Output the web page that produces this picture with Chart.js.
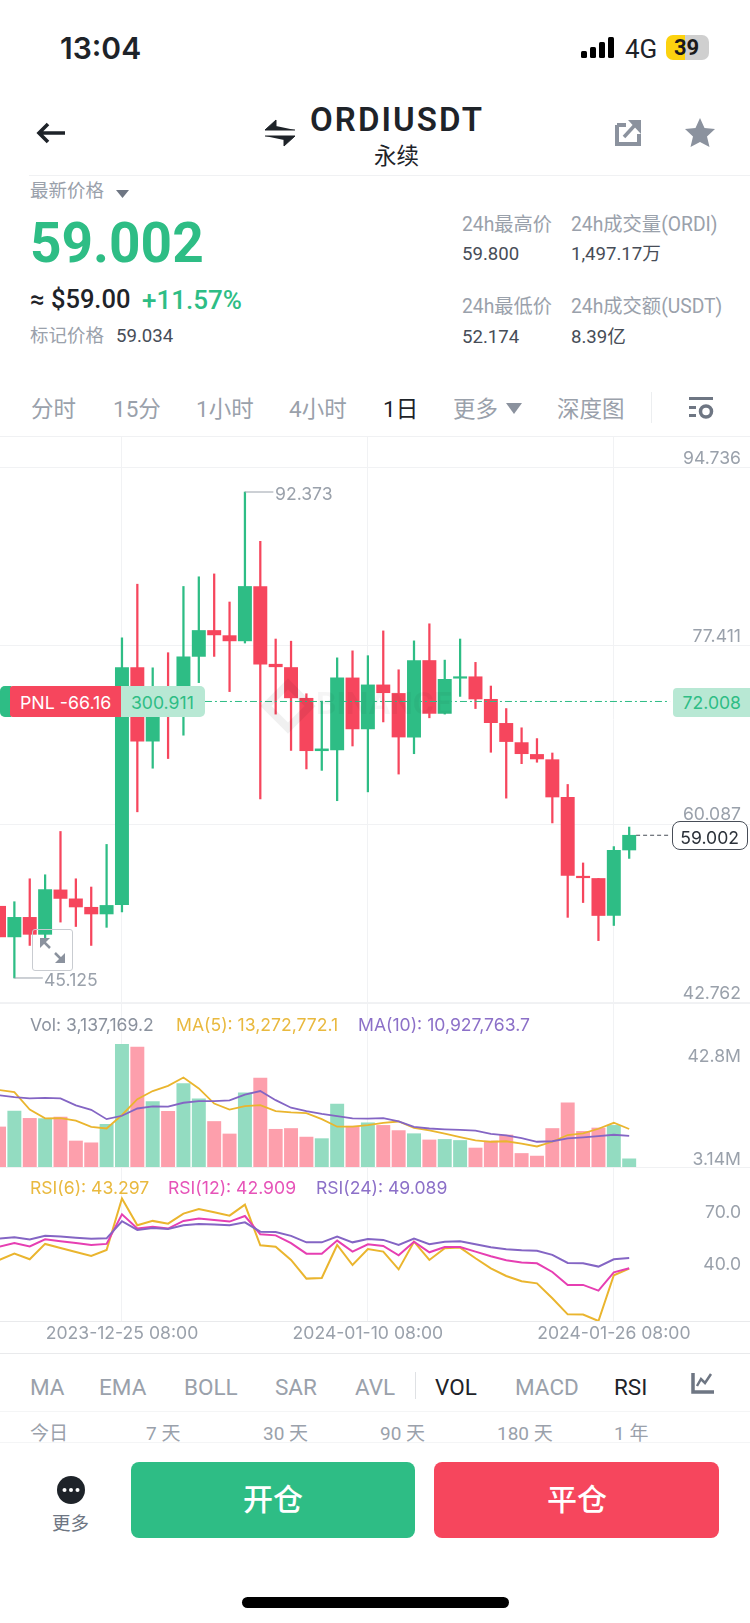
<!DOCTYPE html>
<html>
<head>
<meta charset="utf-8">
<title>ORDIUSDT</title>
<script src="https://cdn.jsdelivr.net/npm/chart.js@4"></script>
<style>
  html, body { margin: 0; padding: 0; background: #fff; }
  #page { position: relative; width: 750px; height: 1623px; overflow: hidden; background: #fff; font-family: Roboto, "Noto Sans CJK SC", sans-serif; }
  canvas { position: absolute; left: 0; }
  .t { position: absolute; white-space: nowrap; transform: translateY(-50%); line-height: 1; }
  .g { color: #9aa1ab; }
  .k { color: #1e2329; }
  .d { color: #474d57; }
  .up { color: #2ebd85; }
  .s { font-size: 18.5px; }
  .m { font-size: 19.3px; }
  .v { font-size: 18.6px; }
  .tab { font-size: 22.5px; }
  .i { font-family: Inter, sans-serif; font-size: 17.6px; }
  .line { position: absolute; height: 1px; background: #f0f1f3; left: 0; right: 0; }
  .box { position: absolute; box-sizing: border-box; }
  svg { position: absolute; overflow: visible; }
</style>
</head>
<body>
<div id="page">
  <canvas id="chartPrice" width="750" height="567" style="top:436px"></canvas>
  <canvas id="chartVol" width="750" height="164" style="top:1003px"></canvas>
  <canvas id="chartRsi" width="750" height="178" style="top:1167px"></canvas>

  <!-- status bar -->
  <span class="t k" style="left:60px;top:48px;font-size:30px;font-weight:600;font-family:Inter">13:04</span>
  <svg style="left:581px;top:36px" width="34" height="23"><g fill="#000">
    <rect x="0" y="15" width="6" height="7" rx="1.5"/><rect x="9" y="11" width="6" height="11" rx="1.5"/>
    <rect x="18" y="6" width="6" height="16" rx="1.5"/><rect x="27" y="1" width="6" height="21" rx="1.5"/></g></svg>
  <span class="t k" style="left:625px;top:48.5px;font-size:26px">4G</span>
  <div class="box" style="left:666px;top:35px;width:43px;height:25px;border-radius:7px;background:linear-gradient(90deg,#fcd20f 45%,#cfcfcf 45%)"></div>
  <span class="t" style="left:674px;top:48px;font-size:22px;font-weight:700;color:#1a1a1a">39</span>

  <!-- title bar -->
  <svg style="left:36px;top:122px" width="30" height="22"><path d="M29 11H3M12 2L3 11l9 9" fill="none" stroke="#1e2329" stroke-width="3.6"/></svg>
  <svg style="left:265px;top:120px" width="30" height="27"><path d="M30 10H0L11 0v6M0 16h30L19 26v-6" fill="#1e2329" stroke="#1e2329" stroke-width="1"/></svg>
  <span class="t k" style="left:310px;top:119px;font-size:33px;font-weight:600;letter-spacing:2.1px">ORDIUSDT</span>
  <span class="t k" style="left:374px;top:156px;font-size:22.5px">永续</span>
  <svg style="left:615px;top:119px" width="26" height="27"><g fill="none" stroke="#8b929e" stroke-width="4"><path d="M2 6v19h22V15M2 6h9"/></g><path d="M9 18L20 6" stroke="#8b929e" stroke-width="3.500"/><path d="M13 1h13v14z" fill="#8b929e"/></svg>
  <svg style="left:685px;top:118px" width="30" height="29"><path d="M15 0l4.5 10 10.5 1-8 7.5 2.500 10.500L15 24 5.500 29 8 18.500 0 11l10.500-1z" fill="#8b929e"/></svg>
  <div class="line" style="top:175px;left:29px"></div>

  <!-- price block -->
  <span class="t g s" style="left:30px;top:191px">最新价格</span>
  <svg style="left:116px;top:190px" width="13" height="8"><path d="M0 0h13L6.500 8z" fill="#6e7683"/></svg>
  <span class="t up" style="left:30px;top:243px;font-size:55px;font-weight:700">59.002</span>
  <span class="t k" style="left:30px;top:300px;font-size:25.5px;font-weight:500">≈ $59.00</span>
  <span class="t up" style="left:142px;top:300px;font-size:26px;font-weight:500">+11.57%</span>
  <span class="t g s" style="left:30px;top:336px">标记价格</span>
  <span class="t d v" style="left:116px;top:336px">59.034</span>
  <span class="t g m" style="left:462px;top:225px">24h最高价</span>
  <span class="t g m" style="left:571px;top:225px">24h成交量(ORDI)</span>
  <span class="t d v" style="left:462px;top:254px">59.800</span>
  <span class="t d v" style="left:571px;top:254px">1,497.17万</span>
  <span class="t g m" style="left:462px;top:307px">24h最低价</span>
  <span class="t g m" style="left:571px;top:307px">24h成交额(USDT)</span>
  <span class="t d v" style="left:462px;top:337px">52.174</span>
  <span class="t d v" style="left:571px;top:337px">8.39亿</span>

  <!-- period tabs -->
  <span class="t g tab" style="left:31px;top:409px">分时</span>
  <span class="t g tab" style="left:113px;top:409px">15分</span>
  <span class="t g tab" style="left:196px;top:409px">1小时</span>
  <span class="t g tab" style="left:289px;top:409px">4小时</span>
  <span class="t k tab" style="left:383px;top:409px">1日</span>
  <span class="t g tab" style="left:453px;top:409px">更多</span>
  <svg style="left:506px;top:403px" width="16" height="11"><path d="M0 0h16L8 11z" fill="#8b929e"/></svg>
  <span class="t g tab" style="left:557px;top:409px">深度图</span>
  <div class="box" style="left:651px;top:392px;width:1px;height:31px;background:#eceef0"></div>
  <svg style="left:689px;top:397px" width="24" height="23"><g fill="#6e7683"><rect width="24" height="3"/><rect y="9" width="7" height="3"/><rect y="17" width="7" height="3"/></g><circle cx="17" cy="14.500" r="5.500" fill="none" stroke="#6e7683" stroke-width="3.500"/></svg>
  <div class="line" style="top:436px"></div>

  <!-- overlays on the candle chart -->
  <svg style="left:266px;top:684px" width="44" height="44" opacity="0.06"><path d="M22 0l22 22-22 22L0 22z" fill="none" stroke="#000" stroke-width="8"/></svg>
  <span class="t" style="left:316px;top:703px;font-size:32px;font-weight:700;color:rgba(0,0,0,.04)">BINANCE</span>
  <span class="t g" style="left:275px;top:494px;font-family:Inter;font-size:17.6px">92.373</span>
  <span class="t g" style="left:44px;top:980px;font-family:Inter;font-size:17.6px">45.125</span>
  <div class="box" style="left:32px;top:929px;width:41px;height:42px;border:1px solid #c9ccd1;border-radius:3px"></div>
  <svg style="left:40px;top:938px" width="25" height="25"><g fill="#8b929e"><path d="M0 0h10L0 10z"/><path d="M25 25H15l10-10z"/></g><path d="M4 4l6 6M21 21l-6-6" stroke="#8b929e" stroke-width="2.500"/></svg>
  <div class="box" style="left:0;top:686px;width:205px;height:31px;border-radius:5px;overflow:hidden;background:#b8e8d4">
    <div class="box" style="left:0;top:0;width:11px;height:31px;background:#2ebd85"></div>
    <div class="box" style="left:10px;top:0;width:111px;height:31px;background:#f6465d;border-radius:3px 0 0 3px"></div>
  </div>
  <span class="t" style="left:20px;top:703px;color:#fff;font-family:Inter;font-size:17.8px">PNL -66.16</span>
  <span class="t up" style="left:131px;top:703px;font-family:Inter;font-size:17.6px">300.911</span>
  <div class="box" style="left:673px;top:688px;width:77px;height:29px;border-radius:4px 0 0 4px;background:#b8e8d4"></div>
  <span class="t up" style="right:9px;top:703px;font-family:Inter;font-size:17.6px">72.008</span>
  <div class="box" style="left:672px;top:821px;width:76px;height:29px;border:1.500px solid #474d57;border-radius:8px;background:#fff"></div>
  <span class="t d" style="right:11px;top:838px;font-family:Inter;font-size:17.6px;color:#2b3139">59.002</span>

  <!-- pane legends -->
  <div class="line" style="top:1003px"></div>
  <span class="t i" style="left:30px;top:1025px;color:#8b929e">Vol: 3,137,169.2</span>
  <span class="t i" style="left:176px;top:1025px;color:#e9b93f">MA(5): 13,272,772.1</span>
  <span class="t i" style="left:358px;top:1025px;color:#8c70c8">MA(10): 10,927,763.7</span>
  <div class="line" style="top:1167px"></div>
  <span class="t i" style="left:30px;top:1188px;color:#e9b93f">RSI(6): 43.297</span>
  <span class="t i" style="left:168px;top:1188px;color:#e653b8">RSI(12): 42.909</span>
  <span class="t i" style="left:316px;top:1188px;color:#8c70c8">RSI(24): 49.089</span>

  <!-- indicator tabs -->
  <div class="line" style="top:1353px;background:#e9eaec"></div>
  <span class="t g tab" style="left:30px;top:1387px">MA</span>
  <span class="t g tab" style="left:99px;top:1387px">EMA</span>
  <span class="t g tab" style="left:184px;top:1387px">BOLL</span>
  <span class="t g tab" style="left:275px;top:1387px">SAR</span>
  <span class="t g tab" style="left:355px;top:1387px">AVL</span>
  <div class="box" style="left:415px;top:1372px;width:1px;height:27px;background:#dfe1e4"></div>
  <span class="t k tab" style="left:435px;top:1387px">VOL</span>
  <span class="t g tab" style="left:515px;top:1387px">MACD</span>
  <span class="t k tab" style="left:614px;top:1387px">RSI</span>
  <svg style="left:691px;top:1373px" width="23" height="22"><path d="M2 0v19h21" fill="none" stroke="#6e7683" stroke-width="3.500"/><path d="M6 13l4-7 4 4 6-9" fill="none" stroke="#6e7683" stroke-width="2.500"/></svg>
  <div class="line" style="top:1411px;background:#f4f5f6"></div>
  <span class="t g" style="left:30px;top:1433px;font-size:19px">今日</span>
  <span class="t g" style="left:146px;top:1433px;font-size:19px">7 天</span>
  <span class="t g" style="left:263px;top:1433px;font-size:19px">30 天</span>
  <span class="t g" style="left:380px;top:1433px;font-size:19px">90 天</span>
  <span class="t g" style="left:497px;top:1433px;font-size:19px">180 天</span>
  <span class="t g" style="left:614px;top:1433px;font-size:19px">1 年</span>
  <div class="line" style="top:1442px;background:#f4f5f6"></div>

  <!-- actions -->
  <svg style="left:57px;top:1476px" width="28" height="28"><circle cx="14" cy="14" r="14" fill="#1e2329"/><g fill="#fff"><circle cx="7.500" cy="14" r="2"/><circle cx="14" cy="14" r="2"/><circle cx="20.500" cy="14" r="2"/></g></svg>
  <span class="t g s" style="left:52px;top:1524px;color:#6e7683">更多</span>
  <div class="box" style="left:131px;top:1462px;width:284px;height:76px;border-radius:8px;background:#2ebd85"></div>
  <div class="box" style="left:434px;top:1462px;width:285px;height:76px;border-radius:8px;background:#f6465d"></div>
  <span class="t" style="left:243px;top:1500px;font-size:30px;font-weight:500;color:#fff">开仓</span>
  <span class="t" style="left:547px;top:1500px;font-size:30px;font-weight:500;color:#fff">平仓</span>
  <div class="box" style="left:242px;top:1597px;width:267px;height:11px;border-radius:6px;background:#000"></div>
</div>

<script>
// daily dates of the visible candles, 2023-12-17 to 2024-01-27
const dates = ['2023-12-17 08:00','2023-12-18 08:00','2023-12-19 08:00','2023-12-20 08:00','2023-12-21 08:00','2023-12-22 08:00',
  '2023-12-23 08:00','2023-12-24 08:00','2023-12-25 08:00','2023-12-26 08:00','2023-12-27 08:00','2023-12-28 08:00',
  '2023-12-29 08:00','2023-12-30 08:00','2023-12-31 08:00','2024-01-01 08:00','2024-01-02 08:00','2024-01-03 08:00',
  '2024-01-04 08:00','2024-01-05 08:00','2024-01-06 08:00','2024-01-07 08:00','2024-01-08 08:00','2024-01-09 08:00',
  '2024-01-10 08:00','2024-01-11 08:00','2024-01-12 08:00','2024-01-13 08:00','2024-01-14 08:00','2024-01-15 08:00',
  '2024-01-16 08:00','2024-01-17 08:00','2024-01-18 08:00','2024-01-19 08:00','2024-01-20 08:00','2024-01-21 08:00',
  '2024-01-22 08:00','2024-01-23 08:00','2024-01-24 08:00','2024-01-25 08:00','2024-01-26 08:00','2024-01-27 08:00'];

const opens = [52.10,49.12,51.02,49.37,53.69,52.82,52.00,51.35,52.25,75.31,68.15,73.04,72.86,76.39,78.91,78.41,77.90,83.19,75.63,75.31,72.32,67.22,
  67.29,74.30,69.34,73.62,72.79,68.55,75.99,70.85,74.27,74.41,72.22,69.88,68.01,66.86,66.35,62.68,55.02,54.80,51.20,57.57];
const closes = [49.12,51.02,49.37,53.72,52.86,52.03,51.35,52.18,75.31,68.15,72.50,71.96,76.35,78.91,78.48,77.90,83.19,75.63,75.38,72.36,67.22,67.40,
  74.30,69.34,73.62,72.86,68.55,75.99,70.85,74.16,74.41,72.25,69.95,68.11,66.93,66.42,62.72,55.09,54.87,51.20,57.54,59.002];
const highs = [52.10,52.54,54.77,55.16,59.37,54.77,53.97,58.11,78.19,83.41,75.28,76.75,83.19,84.13,84.41,81.68,92.373,87.58,78.08,77.87,72.76,72.04,
  76.25,76.93,76.46,78.87,75.09,77.90,79.56,76.03,78.08,75.81,73.51,71.32,69.45,68.40,67.00,63.94,56.31,54.80,57.90,59.80];
const lows = [49.12,45.125,48.29,48.94,50.56,50.13,48.29,50.05,51.56,61.28,65.52,66.46,68.73,73.84,76.39,72.97,77.69,62.54,70.78,67.25,65.45,65.31,
  62.36,67.68,63.22,70.02,64.95,66.93,70.42,70.78,72.50,71.32,67.07,62.61,65.96,66.10,60.20,51.02,52.46,48.76,50.23,56.75];

const volumes = [15.4,21.5,18.7,18.6,19.2,10.0,9.3,16.4,47.2,46.1,25.2,21.4,32.1,26.2,17.5,12.7,28.5,34.2,14.5,14.8,11.5,10.9,
  24.2,15.7,17.0,16.0,14.0,12.8,10.4,10.6,10.2,7.3,10.0,12.3,5.2,4.2,14.8,24.7,13.7,15.0,16.0,3.14];
const ma5 = [29.6,28.8,22.1,18.7,18.8,17.8,15.4,14.8,20.0,26.1,29.2,31.2,34.4,30.2,24.4,22.1,23.4,23.8,21.5,21.0,20.7,18.4,
  15.5,15.5,16.1,17.0,17.5,15.0,14.1,12.8,11.5,10.2,9.7,9.9,9.0,7.9,9.7,12.3,12.9,14.7,17.0,14.6];
const ma10 = [27.6,26.9,26.4,26.6,26.4,23.7,22.0,18.4,19.7,22.5,23.3,23.2,24.7,25.3,25.3,25.6,27.8,29.2,25.7,22.8,21.5,20.4,
  19.6,18.7,18.6,18.8,17.5,15.4,14.8,14.5,14.3,14.0,12.7,12.2,11.1,9.7,9.9,11.0,11.4,11.9,12.4,12.0];

const rsi6 = [42.3,45.9,42.7,51.5,49.2,46.9,44.6,48.0,77.5,62.2,64.7,63.1,68.9,71.5,69.6,67.7,74.0,50.7,49.9,42.3,31.6,32.0,
  50.9,39.4,48.6,47.1,36.9,52.8,42.3,49.0,49.4,43.3,37.5,33.1,30.1,28.9,20.3,11.1,11.0,7.3,33.5,37.3];
const rsi12 = [49.9,52.0,50.1,54.1,53.0,52.0,50.9,51.5,68.5,60.3,61.4,60.3,64.7,66.0,65.2,64.3,67.5,57.0,56.4,51.9,45.9,45.9,
  53.4,47.1,51.3,50.3,45.0,52.8,46.7,49.7,49.7,47.1,44.4,42.1,40.8,40.4,35.4,28.0,28.0,24.7,35.2,37.5];
const rsi24 = [54.5,55.3,54.1,56.2,55.7,55.1,54.5,54.7,64.5,59.5,60.6,60.1,62.2,62.9,62.7,62.2,63.9,58.5,58.3,56.1,52.4,52.4,
  55.7,52.4,54.3,53.8,50.9,54.5,51.3,52.8,53.0,51.3,49.6,48.4,47.8,47.6,45.2,40.6,40.4,38.5,42.7,43.4];

const priceTicks = [94.736, 77.411, 60.087, 42.762];
const volTicks = [42.8, 3.14];
const rsiTicks = [70, 40];
const dateTicks = [8, 24, 40];

const positionPrice = 72.008;
const lastPrice = 59.002;

const UP = '#2ebd85', DOWN = '#f6465d';
const UP_SOFT = '#93dcc1', DOWN_SOFT = '#fd9fac';
const GRID = '#f1f2f4', TICK = '#9aa1ab';
const X_MIN = 0.065, X_MAX = 48.86;

Chart.defaults.font.family = 'Inter, sans-serif';
Chart.defaults.font.size = 17.6;
Chart.defaults.animation = false;
Chart.defaults.responsive = false;
Chart.defaults.plugins.legend.display = false;
Chart.defaults.plugins.tooltip.enabled = false;

const isUp = dates.map((d, i) => closes[i] >= opens[i]);
const points = vals => vals.map((v, i) => ({x: i, y: v}));
const ranges = (a, b) => a.map((v, i) => ({x: i, y: [v, b[i]]}));

function xAxis(showLabels) {
  return {
    type: 'linear', min: X_MIN, max: X_MAX, offset: false,
    afterBuildTicks: s => { s.ticks = dateTicks.map(v => ({value: v})); },
    afterFit: s => { s.height = showLabels ? 24 : 0; s.paddingLeft = 0; s.paddingRight = 0; },
    grid: {color: GRID, drawTicks: false, offset: false},
    border: showLabels ? {color: '#e9eaec'} : {display: false},
    ticks: {display: showLabels, color: TICK, maxRotation: 0, autoSkip: false, padding: 2, callback: v => dates[v]}
  };
}

function yAxis(min, max, tickVals, fmt, labelOffset, grid) {
  return {
    position: 'right', min: min, max: max,
    afterBuildTicks: s => { s.ticks = tickVals.map(v => ({value: v})); },
    // mirrored labels still reserve room, the panes must fill the whole canvas
    afterFit: s => { s.width = 0; s.paddingTop = 0; s.paddingBottom = 0; },
    grid: {display: grid, color: GRID, drawTicks: false},
    border: {display: false},
    ticks: {mirror: true, padding: -9, color: TICK, autoSkip: false, labelOffset: labelOffset, callback: fmt}
  };
}

function line(data, color, order, width) {
  return {type: 'line', data: data, borderColor: color, borderWidth: width, pointRadius: 0, tension: 0, order: order};
}

new Chart(document.getElementById('chartPrice'), {
  type: 'bar',
  data: {
    datasets: [
      {data: ranges(lows, highs), grouped: false, barThickness: 1.6, backgroundColor: isUp.map(u => u ? UP : DOWN), order: 5},
      {data: ranges(opens, closes), grouped: false, barThickness: 13.3, minBarLength: 1.5, backgroundColor: isUp.map(u => u ? UP : DOWN), order: 4},
      {type: 'line', data: [{x: 16, y: highs[16]}, {x: 17.85, y: highs[16]}], borderColor: '#9aa1ab', borderWidth: 1, pointRadius: 0, order: 3},
      {type: 'line', data: [{x: 1, y: lows[1]}, {x: 2.85, y: lows[1]}], borderColor: '#9aa1ab', borderWidth: 1, pointRadius: 0, order: 3},
      {type: 'line', data: [{x: 13.4, y: positionPrice}, {x: 43.66, y: positionPrice}], borderColor: '#2ebd85', borderWidth: 1, borderDash: [7, 3, 2, 3], pointRadius: 0, order: 2},
      {type: 'line', data: [{x: 41.45, y: lastPrice}, {x: 43.66, y: lastPrice}], borderColor: '#474d57', borderWidth: 1, borderDash: [4, 3], pointRadius: 0, order: 1}
    ]
  },
  options: {
    scales: {
      x: xAxis(false),
      y: yAxis(42.694, 97.818, priceTicks, v => v.toFixed(3), -9, true)
    }
  }
});

new Chart(document.getElementById('chartVol'), {
  type: 'bar',
  data: {
    datasets: [
      {data: points(volumes), grouped: false, barThickness: 13.3, backgroundColor: isUp.map(u => u ? UP_SOFT : DOWN_SOFT), order: 3},
      line(points(ma5), '#eab52e', 2, 1.8),
      line(points(ma10), '#8465c4', 1, 1.8)
    ]
  },
  options: {
    scales: {
      x: xAxis(false),
      y: yAxis(0, 63.06, volTicks, v => v + 'M', 1, false)
    }
  }
});

new Chart(document.getElementById('chartRsi'), {
  type: 'line',
  data: {
    datasets: [
      line(points(rsi6), '#eab52e', 3, 2),
      line(points(rsi12), '#e63fb2', 2, 2),
      line(points(rsi24), '#8465c4', 1, 2)
    ]
  },
  options: {
    scales: {
      x: xAxis(true),
      y: yAxis(7.3, 95.6, rsiTicks, v => v.toFixed(1), 1, false)
    }
  }
});
</script>
</body>
</html>
